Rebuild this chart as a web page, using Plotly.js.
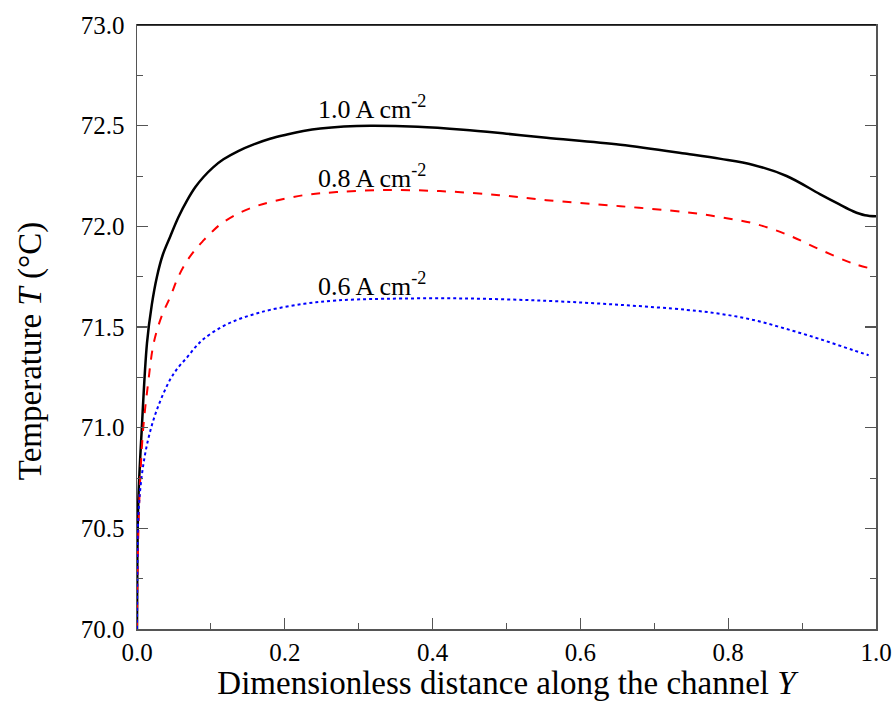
<!DOCTYPE html>
<html>
<head>
<meta charset="utf-8">
<script src="https://cdn.plot.ly/plotly-3.0.1.min.js"></script>
<style>body{margin:0;padding:0;background:#fff}#chart{width:895px;height:726px}</style>
</head>
<body>
<div id="chart"></div>
<script>
// Series 1.0 A cm-2
const x10 = [0, 0.0005, 0.0018, 0.0064, 0.0135, 0.02, 0.027, 0.035, 0.045, 0.056, 0.068, 0.079, 0.09, 0.103, 0.117, 0.137, 0.158, 0.18, 0.203, 0.225, 0.248, 0.28, 0.316, 0.38, 0.4416, 0.5, 0.554, 0.654, 0.744, 0.79, 0.834, 0.879, 0.924, 0.95, 0.969, 0.985, 1.0];
const t10 = [70.0, 70.35, 70.64, 70.99, 71.42, 71.61, 71.75, 71.86, 71.95, 72.045, 72.13, 72.195, 72.245, 72.293, 72.333, 72.374, 72.407, 72.435, 72.456, 72.473, 72.486, 72.496, 72.50, 72.495, 72.48, 72.46, 72.44, 72.405, 72.36, 72.335, 72.305, 72.25, 72.16, 72.11, 72.075, 72.055, 72.05];
// Series 0.8 A cm-2
const x08 = [0, 0.0005, 0.002, 0.004, 0.0085, 0.015, 0.0226, 0.033, 0.045, 0.056, 0.068, 0.079, 0.09, 0.102, 0.113, 0.135, 0.157, 0.18, 0.226, 0.27, 0.334, 0.41, 0.49, 0.554, 0.654, 0.744, 0.79, 0.834, 0.879, 0.924, 0.969, 1.0];
const t08 = [70.0, 70.25, 70.5, 70.72, 71.0, 71.22, 71.42, 71.55, 71.65, 71.75, 71.83, 71.885, 71.93, 71.975, 72.01, 72.06, 72.095, 72.12, 72.155, 72.17, 72.18, 72.175, 72.155, 72.13, 72.10, 72.07, 72.045, 72.015, 71.96, 71.885, 71.815, 71.785];
// Series 0.6 A cm-2
const x06 = [0, 0.0005, 0.0018, 0.0064, 0.015, 0.027, 0.045, 0.056, 0.068, 0.079, 0.09, 0.112, 0.135, 0.157, 0.18, 0.226, 0.27, 0.334, 0.44, 0.554, 0.654, 0.744, 0.79, 0.834, 0.879, 0.924, 0.969, 0.99];
const t06 = [70.0, 70.3, 70.56, 70.76, 70.94, 71.09, 71.24, 71.3, 71.35, 71.4, 71.44, 71.495, 71.535, 71.562, 71.585, 71.615, 71.632, 71.64, 71.642, 71.63, 71.61, 71.585, 71.565, 71.535, 71.49, 71.44, 71.385, 71.36];

const labels = ["1.0 A cm<sup>-2</sup>", "0.8 A cm<sup>-2</sup>", "0.6 A cm<sup>-2</sup>"];
const labelX = [0.318, 0.318, 0.318];
const labelY = [72.59, 72.25, 71.71];

const FONT = "Liberation Serif";

const traces = [
  {x: x10, y: t10, mode: 'lines', line: {color: '#000000', width: 2.5, shape: 'spline', smoothing: 1}, hoverinfo: 'skip'},
  {x: x08, y: t08, mode: 'lines', line: {color: '#ff0000', width: 2, dash: 'dash', shape: 'spline', smoothing: 1}, hoverinfo: 'skip'},
  {x: x06, y: t06, mode: 'lines', line: {color: '#0000ff', width: 2, dash: 'dot', shape: 'spline', smoothing: 1}, hoverinfo: 'skip'}
];

const annotations = labels.map((t, i) => ({
  x: labelX[i], y: labelY[i], xref: 'x', yref: 'y', text: t, showarrow: false,
  xanchor: 'center', yanchor: 'middle', font: {family: FONT, size: 26, color: '#000'}
}));
// y-axis title as a rotated annotation, to match the reference position
annotations.push({
  xref: 'paper', yref: 'paper', x: -0.1448, y: 0.46, xanchor: 'center', yanchor: 'middle',
  text: 'Temperature <i>T</i> (°C)', textangle: -90, showarrow: false,
  font: {family: FONT, size: 33, color: '#000'}
});

const layout = {
  width: 895, height: 726,
  margin: {l: 137, r: 19, t: 25, b: 97},
  paper_bgcolor: '#fff', plot_bgcolor: '#fff',
  showlegend: false,
  font: {family: FONT, color: '#000'},
  xaxis: {
    range: [0, 1], dtick: 0.2, tick0: 0, tickformat: '.1f',
    showgrid: false, zeroline: false,
    showline: true, linecolor: '#555', linewidth: 1.5, mirror: true,
    ticks: 'inside', ticklen: 11, tickwidth: 1.2, tickcolor: '#555',
    minor: {dtick: 0.1, ticks: 'inside', ticklen: 6, tickwidth: 1, tickcolor: '#555'},
    tickfont: {family: FONT, size: 25, color: '#000'},
    title: {text: 'Dimensionless distance along the channel <i>Y</i>', font: {family: FONT, size: 33, color: '#000'}, standoff: 5}
  },
  yaxis: {
    range: [70, 73], dtick: 0.5, tick0: 70, tickformat: '.1f',
    showgrid: false, zeroline: false,
    showline: true, linecolor: '#555', linewidth: 1.5, mirror: 'ticks',
    ticks: 'inside', ticklen: 11, tickwidth: 1.2, tickcolor: '#555',
    ticklabelstandoff: 6,
    minor: {dtick: 0.25, ticks: 'inside', ticklen: 6, tickwidth: 1, tickcolor: '#555'},
    tickfont: {family: FONT, size: 25, color: '#000'}
  },
  shapes: [
    {type: 'line', xref: 'paper', yref: 'paper', x0: 0, x1: 1, y0: 1, y1: 1, line: {color: '#000', width: 1.5}}
  ],
  annotations: annotations
};

Plotly.newPlot('chart', traces, layout, {displayModeBar: false, staticPlot: true});
</script>
</body>
</html>
